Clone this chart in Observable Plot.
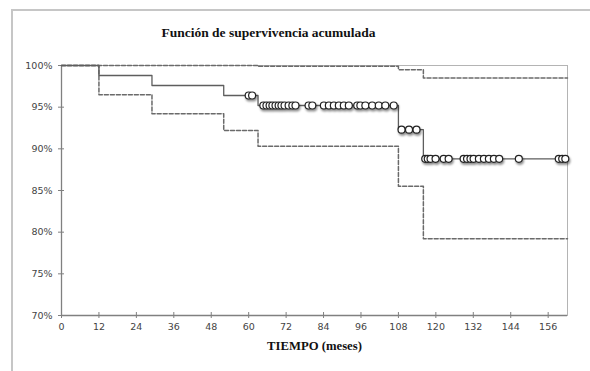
<!DOCTYPE html>
<html>
<head>
<meta charset="utf-8">
<script src="https://cdn.jsdelivr.net/npm/d3@7"></script>
<script src="https://cdn.jsdelivr.net/npm/@observablehq/plot@0.6"></script>
<style>
  html, body { margin: 0; padding: 0; background: #fff; overflow: hidden; }
  #wrap { position: relative; width: 590px; height: 371px; overflow: hidden; background: #fff; }
  #border { position: absolute; left: 11px; top: 9px; width: 700px; height: 500px; border: 2px solid #c6c6c6; pointer-events: none; z-index: 3; }
  #title { position: absolute; left: 0; top: 25px; width: 537px; text-align: center;
           font-family: "Liberation Serif", "Times New Roman", serif; font-weight: bold; font-size: 13.5px;
           line-height: 16px; color: #111; z-index: 2; }
  #chart { position: absolute; left: 0; top: 50px; z-index: 1; }
</style>
</head>
<body>
<div id="wrap">
  <div id="border"></div>
  <div id="title">Función de supervivencia acumulada</div>
  <div id="chart"></div>
</div>
<script>
// Kaplan-Meier estimate (step function)
const kmTime = [0, 12, 29, 52, 63, 108, 116, 162.2];
const kmSurv = [1.000, 0.988, 0.976, 0.964, 0.952, 0.923, 0.888, 0.888];

// Upper confidence limit
const upTime = [0, 63, 108, 116, 162.2];
const upSurv = [1.000, 0.999, 0.995, 0.985, 0.985];

// Lower confidence limit
const loTime = [0, 12, 29, 52, 63, 108, 116, 162.2];
const loSurv = [1.000, 0.965, 0.942, 0.922, 0.903, 0.855, 0.792, 0.792];

// Censored observations (months)
const censorTime = [
  60, 61.1,
  64.7, 65.7, 66.7, 67.6, 68.6, 69.6, 70.5, 71.5, 72.8, 74, 75,
  79.2, 80.4,
  84.1, 85.7, 87.3, 88.9, 90.5, 92.1, 94.8, 95.8, 97.4, 99.6, 101.7, 103.8, 106.5,
  109, 111.4, 113.8,
  116.6, 117.4, 118.3, 119.9, 122.5, 124.1, 128.9, 130, 131.1, 132.1, 133.8, 135.4, 137, 138.6, 140.3, 146.6, 159.4, 160.5, 161.5
];

// Axis ticks
const xTicks = [0, 12, 24, 36, 48, 60, 72, 84, 96, 108, 120, 132, 144, 156];
const yTicks = [0.70, 0.75, 0.80, 0.85, 0.90, 0.95, 1.00];

const xLabel = "TIEMPO (meses)";

// tables for the library
const toRows = (t, s) => t.map((d, i) => ({t: d, s: s[i]}));
const km = toRows(kmTime, kmSurv);
const up = toRows(upTime, upSurv);
const lo = toRows(loTime, loSurv);
const kmAt = (t) => { let v = kmSurv[0]; for (let i = 0; i < kmTime.length; i++) if (kmTime[i] <= t) v = kmSurv[i]; return v; };
const cens = censorTime.map(t => ({t, s: kmAt(t)}));

const W = 590, H = 321, mL = 61, mR = 23, mT = 15, mB = 56;
const pw = W - mL - mR, ph = H - mT - mB;
const pct = d3.format(".0%");

const svg = Plot.plot({
  width: W, height: H,
  marginLeft: mL, marginRight: mR, marginTop: mT, marginBottom: mB,
  style: { fontFamily: "'DejaVu Sans', Verdana, sans-serif", fontSize: "9.5px", color: "#444", background: "transparent", overflow: "visible" },
  x: { domain: [0, 162.2], label: null },
  y: { domain: [0.70, 1.00], label: null },
  marks: [
    Plot.frame({ stroke: "#b4b4b4" }),
    Plot.axisY(yTicks, { tickSize: 0, tickPadding: 9, tickFormat: pct, label: null, fill: "#444" }),
    Plot.axisX(xTicks, { tickSize: 0, tickPadding: 8, label: null, fill: "#444" }),
    Plot.tickY(yTicks, { y: d => d, dx: -3, insetRight: pw - 6, stroke: "#808080" }),
    Plot.tickX(xTicks, { x: d => d, dy: 3, insetTop: ph - 6, stroke: "#808080" }),
    Plot.ruleX([0], { stroke: "#808080", strokeWidth: 1.3 }),
    Plot.ruleY([0.70], { stroke: "#808080", strokeWidth: 1.3 }),
    Plot.line(up, { x: "t", y: "s", curve: "step-after", stroke: "#6a6a6a", strokeWidth: 1.5, strokeDasharray: "4,2" }),
    Plot.line(lo, { x: "t", y: "s", curve: "step-after", stroke: "#6a6a6a", strokeWidth: 1.5, strokeDasharray: "4,2" }),
    Plot.line(km, { x: "t", y: "s", curve: "step-after", stroke: "#5e5e5e", strokeWidth: 1.3 }),
    Plot.dot(cens, { x: "t", y: "s", r: 3.5, fill: "#fff", stroke: "#222", strokeWidth: 1.2 }),
    Plot.text([xLabel], { frameAnchor: "bottom", dy: 34, text: d => d, fontFamily: "'Liberation Serif', 'Times New Roman', serif",
                          fontWeight: "bold", fontSize: 12.7, fill: "#111" })
  ]
});
d3.select(svg).selectAll('g[aria-label="dot"]').style("filter", "drop-shadow(1px 2px 1.2px rgba(0,0,0,0.45))");
document.getElementById("chart").appendChild(svg);
</script>
</body>
</html>
